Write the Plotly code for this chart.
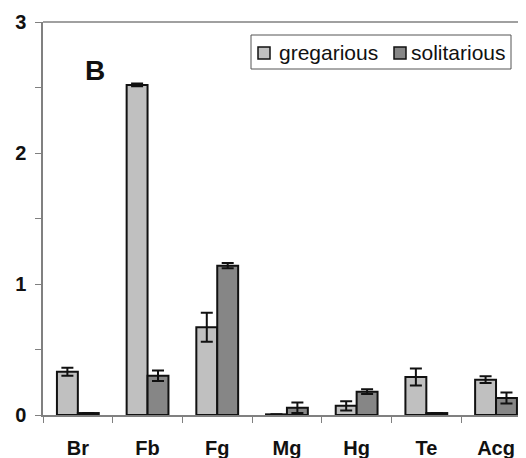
import plotly.graph_objects as go

categories = ["Br", "Fb", "Fg", "Mg", "Hg", "Te", "Acg"]
gregarious = [0.33, 2.52, 0.67, 0.005, 0.07, 0.29, 0.27]
gregarious_err = [0.03, 0.01, 0.11, 0.0, 0.035, 0.065, 0.026]
solitarious = [0.015, 0.30, 1.14, 0.055, 0.178, 0.015, 0.13]
solitarious_err = [0.0, 0.04, 0.02, 0.04, 0.018, 0.0, 0.042]
y_ticks = [0, 1, 2, 3]
series_names = ["gregarious", "solitarious"]
series_colors = ["#c0c0c0", "#868686"]

font = "Liberation Sans, Arial, sans-serif"
ink = "#111111"

# page has an 8px body margin; plot area in page pixels: x 43..526, y 22..415
PX0, PX1, PY0, PY1 = 43, 526, 22, 415


def px(x):
    return (x - PX0) / (PX1 - PX0)


def py(y):
    return (PY1 - y) / (PY1 - PY0)


fig = go.Figure()
for name, vals, errs, col in [
    (series_names[0], gregarious, gregarious_err, series_colors[0]),
    (series_names[1], solitarious, solitarious_err, series_colors[1]),
]:
    fig.add_trace(go.Bar(
        x=categories, y=vals, name=name,
        marker=dict(color=col, line=dict(color=ink, width=2)),
        error_y=dict(type="data", array=errs, color=ink, thickness=2, width=6),
    ))

shapes = [
    dict(type="line", xref="paper", yref="paper", x0=0, x1=1, y0=1, y1=1,
         line=dict(color="#808080", width=1.5)),
    # legend box
    dict(type="rect", xref="paper", yref="paper", x0=px(251), x1=px(511), y0=py(69), y1=py(35),
         fillcolor="white", line=dict(color="#555555", width=1)),
    dict(type="rect", xref="paper", yref="paper", x0=px(258), x1=px(270), y0=py(59), y1=py(47),
         fillcolor=series_colors[0], line=dict(color=ink, width=1.5)),
    dict(type="rect", xref="paper", yref="paper", x0=px(394), x1=px(406), y0=py(59), y1=py(47),
         fillcolor=series_colors[1], line=dict(color=ink, width=1.5)),
]

annotations = [
    dict(text="B", xref="paper", yref="paper", x=px(83), y=py(53), showarrow=False,
         font=dict(size=28, family=font, color=ink, weight="bold")),
    dict(text=series_names[0], xref="paper", yref="paper", x=px(277), y=py(53),
         xanchor="left", yanchor="middle", showarrow=False,
         font=dict(size=21, family=font, color=ink)),
    dict(text=series_names[1], xref="paper", yref="paper", x=px(409), y=py(53),
         xanchor="left", yanchor="middle", showarrow=False,
         font=dict(size=21, family=font, color=ink)),
]

fig.update_layout(
    width=518, height=450,
    margin=dict(l=PX0 - 8, r=0, t=PY0 - 8, b=450 - (PY1 - 8)),
    paper_bgcolor="white", plot_bgcolor="white",
    barmode="group", bargap=0.4, bargroupgap=0,
    font=dict(family=font, color=ink),
    showlegend=False,
    xaxis=dict(
        range=[-0.5, 6.43], showline=True, linecolor="#808080", linewidth=1.5,
        ticks="outside", tickson="boundaries", ticklen=6, tickcolor="#808080",
        tickfont=dict(size=20, family=font, color=ink, weight="bold"),
        ticklabelstandoff=14, showgrid=False, zeroline=False,
    ),
    yaxis=dict(
        range=[0, 3], tickvals=y_ticks, showline=True, linecolor="#808080", linewidth=1.5,
        ticks="outside", ticklen=6, tickcolor="#808080",
        minor=dict(dtick=0.5, ticks="outside", ticklen=6, tickcolor="#808080", showgrid=False),
        tickfont=dict(size=20, family=font, color=ink, weight="bold"),
        ticklabelstandoff=5, showgrid=False, zeroline=False,
    ),
    shapes=shapes,
    annotations=annotations,
)

fig.write_html("out.html")
